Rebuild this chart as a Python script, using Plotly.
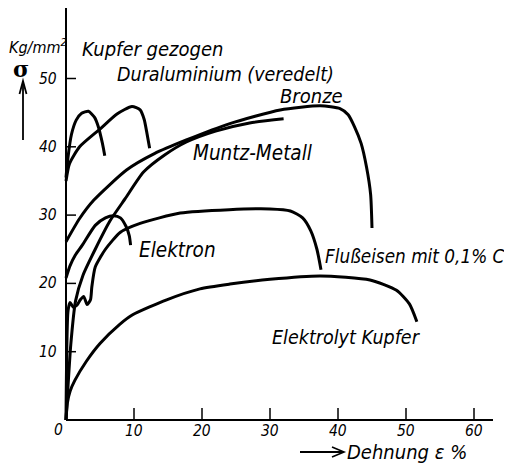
import plotly.graph_objects as go

# ---- data (strain % , stress kg/mm^2) ----
kupfer_gezogen_x = [0, 0.3, 0.8, 1.5, 2.3, 3.3, 4.2, 4.8, 5.2, 5.5, 5.7]
kupfer_gezogen_y = [35.5, 38.5, 41.8, 43.9, 44.9, 45.2, 44.3, 42.8, 41.2, 39.8, 38.7]

dural_x = [0, 0.5, 2, 5, 7.5, 9.7, 10.9, 11.5, 11.9, 12.3]
dural_y = [35.0, 37.5, 40.0, 42.6, 44.8, 45.9, 45.4, 44.0, 42.0, 39.8]

bronze_x = [0, 2, 4.1, 8.9, 13, 17.7, 24.1, 31.5, 37.4, 40.3, 41.5, 42.4, 43.4, 44.2, 44.8, 45.0]
bronze_y = [26.1, 29.5, 32.2, 36.6, 39.0, 41.0, 43.4, 45.4, 46.0, 45.6, 44.7, 43.0, 40.5, 37.0, 33.0, 28.1]

muntz_x = [0, 0.3, 0.7, 1.4, 2.5, 4.3, 6.5, 8.7, 11.4, 14.5, 17.7, 22, 27, 32]
muntz_y = [0, 5.0, 11.0, 17.4, 21.2, 25.0, 29.2, 32.4, 36.3, 38.8, 40.7, 42.3, 43.5, 44.1]

elektron_x = [0, 0.6, 1.4, 2.4, 4.3, 5.8, 7.0, 8.0, 8.8, 9.3, 9.5]
elektron_y = [20.8, 22.6, 24.2, 25.6, 28.5, 29.6, 29.9, 29.6, 28.4, 27.0, 25.6]

flusseisen_x = [0, 0.3, 0.6, 1.1, 1.6, 2.1, 2.6, 3.1, 3.6, 3.8, 4.3, 5.8, 8.0, 10.9, 16.8, 24.0, 30.0, 33.0, 34.8, 36.0, 36.9, 37.5]
flusseisen_y = [0, 16.0, 17.2, 16.5, 16.8, 17.6, 18.1, 16.9, 17.6, 19.5, 22.4, 25.0, 27.5, 28.8, 30.3, 30.8, 30.9, 30.6, 29.6, 27.7, 25.0, 22.0]

elektrolyt_x = [0, 0.2, 0.6, 1.3, 3.0, 5.0, 7.9, 9.8, 14.8, 19.7, 24.1, 30.0, 37.4, 44.7, 48.6, 50.5, 51.6]
elektrolyt_y = [0, 2.5, 4.2, 5.8, 8.6, 11.2, 14.0, 15.4, 17.6, 19.2, 19.9, 20.6, 21.1, 20.5, 19.0, 17.0, 14.4]

x_ticks = [10, 20, 30, 40, 50, 60]
y_ticks = [10, 20, 30, 40, 50]
x_tick_labels = ["10", "20", "30", "40", "50", "60"]
y_tick_labels = ["10", "20", "30", "40", "50"]

series = [
    (kupfer_gezogen_x, kupfer_gezogen_y),
    (dural_x, dural_y),
    (bronze_x, bronze_y),
    (muntz_x, muntz_y),
    (elektron_x, elektron_y),
    (flusseisen_x, flusseisen_y),
    (elektrolyt_x, elektrolyt_y),
]

# ---- layout geometry (screen pixels; page body has an 8px margin) ----
W, H = 512, 465
BODY = 8
X0PX, XSCALE = 66.0, 6.8     # screen pixel of x=0, pixels per unit
Y0PX, YSCALE = 420.0, 6.83   # screen pixel of y=0, pixels per unit


def px2x(px):
    return (px - X0PX) / XSCALE


def py2y(py):
    return (Y0PX - py) / YSCALE


FONT = "DejaVu Sans Condensed, Liberation Sans Narrow, DejaVu Sans, sans-serif"

fig = go.Figure()
for xs, ys in series:
    fig.add_trace(go.Scatter(x=xs, y=ys, mode="lines",
                             line=dict(color="black", width=3, shape="spline", smoothing=0.6),
                             hoverinfo="skip", showlegend=False))


def pline(points, width):
    d = "M " + " L ".join(f"{px2x(a):.4f},{py2y(b):.4f}" for a, b in points)
    return dict(type="path", xref="x", yref="y", path=d,
                line=dict(color="black", width=width))


shapes = []
# axes
shapes.append(dict(type="line", xref="x", yref="y", x0=0, y0=0, x1=0, y1=py2y(7),
                   line=dict(color="black", width=2)))
shapes.append(dict(type="line", xref="x", yref="y", x0=0, y0=0, x1=px2x(493), y1=0,
                   line=dict(color="black", width=2)))
for t in y_ticks:
    shapes.append(dict(type="line", xref="x", yref="y", x0=0, y0=t, x1=10 / XSCALE, y1=t,
                       line=dict(color="black", width=1.5)))
for t in x_ticks:
    shapes.append(dict(type="line", xref="x", yref="y", x0=t, y0=0, x1=t, y1=12 / YSCALE,
                       line=dict(color="black", width=1.5)))
# sigma arrow (up)
shapes.append(pline([(23, 140), (23, 83)], 1.8))
shapes.append(pline([(19.5, 94), (23, 81), (26.5, 94)], 1.8))
# strain arrow (right)
shapes.append(pline([(300, 452), (343, 452)], 1.8))
shapes.append(pline([(332, 447), (344, 452), (332, 457)], 1.6))

ann = []
tickfont = dict(family=FONT, size=15.5, color="black", style="italic")
for t, lab in zip(y_ticks, y_tick_labels):
    ann.append(dict(x=px2x(59), y=t, xref="x", yref="y", text=lab, showarrow=False,
                    xanchor="right", yanchor="middle", font=tickfont))
for t, lab in zip(x_ticks, x_tick_labels):
    ann.append(dict(x=t, y=py2y(431), xref="x", yref="y", text=lab, showarrow=False,
                    xanchor="center", yanchor="middle", font=tickfont))
ann.append(dict(x=px2x(58), y=py2y(430), xref="x", yref="y", text="0", showarrow=False,
                xanchor="center", yanchor="middle", font=tickfont))

labels = [
    ("Kupfer gezogen", 80, 49, 20),
    ("Duraluminium (veredelt)", 115, 74, 19.5),
    ("Bronze", 278, 96, 20),
    ("Muntz-Metall", 191, 153, 20.5),
    ("Elektron", 137, 250, 20.5),
    ("Flußeisen mit 0,1% C", 323, 256, 18.8),
    ("Elektrolyt Kupfer", 270, 337, 19.5),
    ("Dehnung ε %", 345, 452, 20),
]
for txt, px, py, sz in labels:
    ann.append(dict(x=px2x(px), y=py2y(py), xref="x", yref="y", text=txt, showarrow=False,
                    xanchor="left", yanchor="middle",
                    font=dict(family=FONT, size=sz, color="black", style="italic")))

ann.append(dict(x=px2x(38), y=py2y(46), xref="x", yref="y", text="Kg/mm<sup>2</sup>",
                showarrow=False, xanchor="center", yanchor="middle",
                font=dict(family=FONT, size=16, color="black", style="italic")))
ann.append(dict(x=px2x(21), y=py2y(69), xref="x", yref="y", text="<b>σ</b>",
                showarrow=False, xanchor="center", yanchor="middle",
                font=dict(family="DejaVu Serif, serif", size=22, color="black")))

fig.update_layout(
    width=W - BODY, height=H - BODY,
    margin=dict(l=0, r=0, t=0, b=0),
    paper_bgcolor="white", plot_bgcolor="white",
    xaxis=dict(range=[px2x(BODY), px2x(W)], visible=False, fixedrange=True),
    yaxis=dict(range=[py2y(H), py2y(BODY)], visible=False, fixedrange=True),
    shapes=shapes, annotations=ann, showlegend=False,
)
fig.write_html("out.html")
